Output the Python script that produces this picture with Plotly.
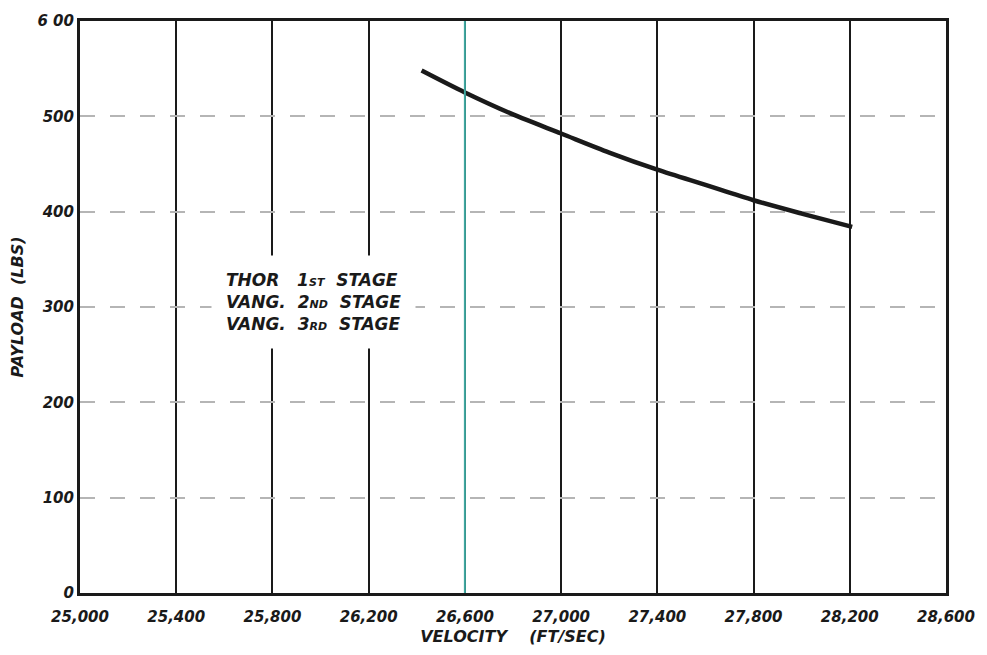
import plotly.graph_objects as go

# Data
velocity = [26420, 26600, 26800, 27000, 27200, 27400, 27600, 27800, 28000, 28210]
payload = [548, 525, 502, 482, 462, 444, 428, 412, 398, 384]

x_ticks = [25000, 25400, 25800, 26200, 26600, 27000, 27400, 27800, 28200, 28600]
x_tick_labels = ["25,000", "25,400", "25,800", "26,200", "26,600", "27,000", "27,400", "27,800", "28,200", "28,600"]
y_ticks = [0, 100, 200, 300, 400, 500, 600]
y_tick_labels = ["0", "100", "200", "300", "400", "500", "6 00"]

note_lines = ["THOR   1<span style='font-size:11px'>ST</span>  STAGE",
              "VANG.  2<span style='font-size:11px'>ND</span>  STAGE",
              "VANG.  3<span style='font-size:11px'>RD</span>  STAGE"]

FONT = "DejaVu Sans"
tick_font = dict(family=FONT, size=15, color="#1a1a1a", style="italic", weight=600)

fig = go.Figure()
fig.add_trace(go.Scatter(x=velocity, y=payload, mode="lines",
                         line=dict(color="#1a1a1a", width=4.5, shape="spline", smoothing=0.8),
                         hoverinfo="skip", showlegend=False))

# teal-tinted gridline seen on the scan at 26,600
fig.add_vline(x=x_ticks[4], line=dict(color="#3fa7a0", width=2), layer="above")

fig.add_annotation(x=25545, y=305, xref="x", yref="y", xanchor="left", yanchor="middle",
                   text="<br>".join(note_lines), showarrow=False, align="left",
                   bgcolor="white", borderpad=14,
                   font=dict(family=FONT, size=17, color="#1a1a1a", style="italic", weight=600))

fig.update_layout(
    width=987, height=655,
    margin=dict(l=80, r=36, t=15, b=62),
    paper_bgcolor="white", plot_bgcolor="white",
    showlegend=False,
    xaxis=dict(range=[25000, 28600], tickvals=x_ticks, ticktext=x_tick_labels,
               showgrid=True, gridcolor="#1a1a1a", gridwidth=2,
               showline=True, linecolor="#1a1a1a", linewidth=3, mirror=True,
               ticks="outside", ticklen=8, tickcolor="rgba(0,0,0,0)",
               zeroline=False, tickfont=tick_font,
               title=dict(text="VELOCITY    (FT/SEC)", standoff=6,
                          font=dict(family=FONT, size=16, color="#1a1a1a", style="italic", weight=600))),
    yaxis=dict(range=[0, 600], tickvals=y_ticks, ticktext=y_tick_labels,
               showgrid=True, gridcolor="#b5b5b5", gridwidth=1.5, griddash="longdash",
               showline=True, linecolor="#1a1a1a", linewidth=3, mirror=True,
               ticks="outside", ticklen=0, zeroline=False, tickfont=tick_font,
               title=dict(text="PAYLOAD  (LBS)", standoff=10,
                          font=dict(family=FONT, size=16, color="#1a1a1a", style="italic", weight=600))),
)

fig.write_html("out.html")
